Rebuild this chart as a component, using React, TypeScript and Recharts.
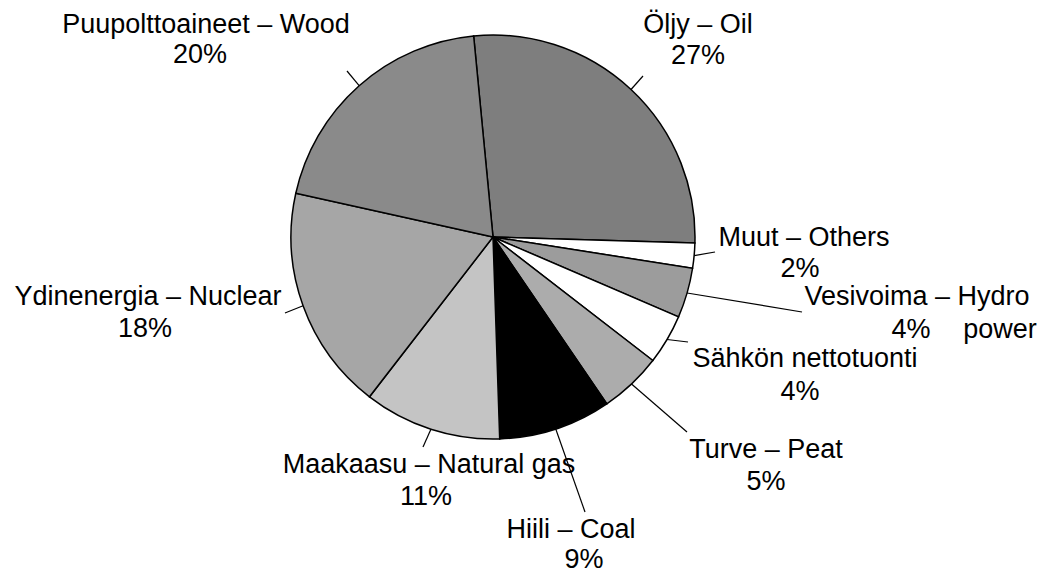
import { Cell, Pie, PieChart } from "recharts";

// Energy sources, clockwise from the top
const SOURCES = [
  "Öljy – Oil",
  "Muut – Others",
  "Vesivoima – Hydro",
  "Sähkön nettotuonti",
  "Turve – Peat",
  "Hiili – Coal",
  "Maakaasu – Natural gas",
  "Ydinenergia – Nuclear",
  "Puupolttoaineet – Wood",
];
const SOURCE_TAIL = ["", "", "power", "", "", "", "", "", ""];
const SHARES = [27, 2, 4, 4, 5, 9, 11, 18, 20];
const FILLS = ["#7e7e7e", "#ffffff", "#9c9c9c", "#ffffff", "#acacac", "#000000", "#c4c4c4", "#a6a6a6", "#8a8a8a"];

// leader end, name line (center x, baseline), percent line
const LABEL_LAYOUT = [
  { end: [643, 76], name: [698, 33], pct: [698, 64] },
  { end: [715, 252], name: [804, 246], pct: [800, 277] },
  { end: [802, 312], name: [917, 305], pct: [911, 338], tail: [1000, 338] },
  { end: [688, 342], name: [805, 367], pct: [800, 400] },
  { end: [687, 432], name: [766, 458], pct: [766, 490] },
  { end: [585, 512], name: [571, 538], pct: [584, 568] },
  { end: [423, 447], name: [429, 473], pct: [426, 505] },
  { end: [285, 313], name: [148, 305], pct: [145, 337] },
  { end: [347, 71], name: [206, 33], pct: [200, 63] },
];

const data = SOURCES.map((name, i) => ({ name, value: SHARES[i] }));

const RAD = Math.PI / 180;

function renderLabel(props: any) {
  const { cx, cy, midAngle, outerRadius, index } = props;
  const lay = LABEL_LAYOUT[index];
  const sx = cx + outerRadius * Math.cos(-midAngle * RAD);
  const sy = cy + outerRadius * Math.sin(-midAngle * RAD);
  const textStyle = { fontFamily: "'Liberation Sans', Arial, sans-serif", fontSize: 27 };
  return (
    <g key={`lbl-${index}`}>
      <line x1={sx} y1={sy} x2={lay.end[0]} y2={lay.end[1]} stroke="#000" strokeWidth={1.2} />
      <text x={lay.name[0]} y={lay.name[1]} textAnchor="middle" fill="#000" style={textStyle}>
        {SOURCES[index]}
      </text>
      <text x={lay.pct[0]} y={lay.pct[1]} textAnchor="middle" fill="#000" style={textStyle}>
        {`${SHARES[index]}%`}
      </text>
      {lay.tail && (
        <text x={lay.tail[0]} y={lay.tail[1]} textAnchor="middle" fill="#000" style={textStyle}>
          {SOURCE_TAIL[index]}
        </text>
      )}
    </g>
  );
}

export default function App() {
  return (
    <div style={{ position: "absolute", left: 0, top: 0, background: "#fff" }}>
      <PieChart width={1042} height={575} margin={{ top: 0, right: 0, bottom: 0, left: 0 }}>
        <Pie
          data={data}
          dataKey="value"
          nameKey="name"
          cx={493}
          cy={237}
          outerRadius={202}
          startAngle={95.5}
          endAngle={-264.5}
          stroke="#000"
          strokeWidth={1.5}
          label={renderLabel}
          labelLine={false}
          isAnimationActive={false}
        >
          {data.map((entry, index) => (
            <Cell key={`${entry.name}-${index}`} fill={FILLS[index]} />
          ))}
        </Pie>
      </PieChart>
    </div>
  );
}
